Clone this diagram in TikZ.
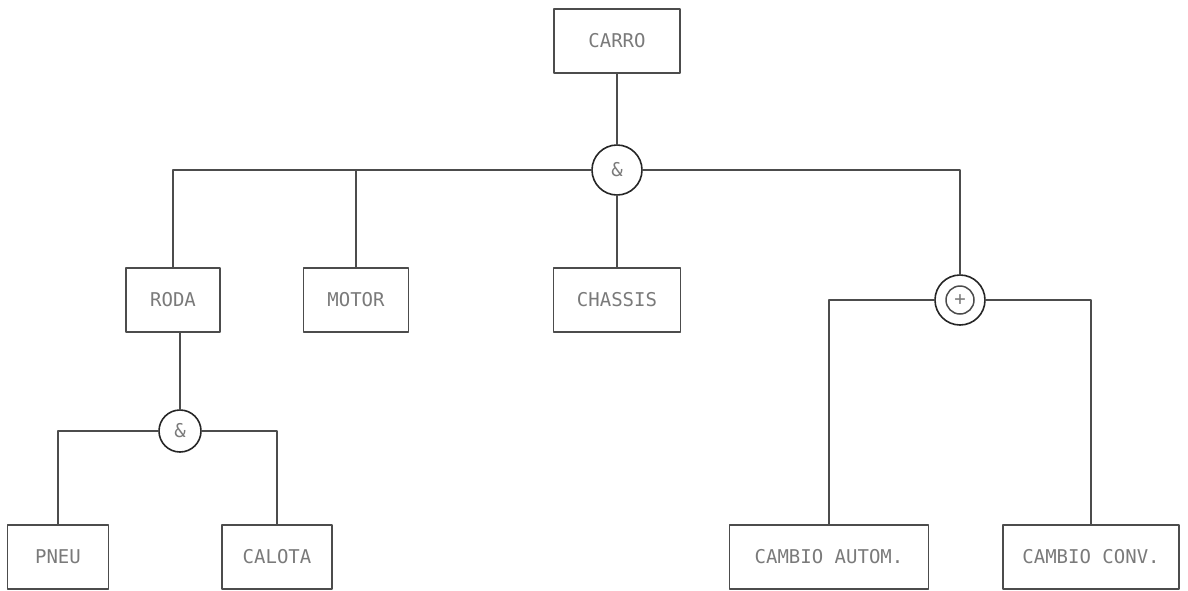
\documentclass[tikz,border=0pt]{standalone}
\usepackage{fontspec}
\setmonofont{DejaVu Sans Mono}
\usepackage{tikz}
\usetikzlibrary{calc}
\definecolor{TreeInk}{gray}{0.3}
\definecolor{TreeText}{gray}{0.48}
\tikzset{
    tree/diagram/.style={
        font=\ttfamily\fontsize{9.5}{11}\selectfont,
        line cap=round,
        line join=round,
        every node/.style={inner sep=0pt, outer sep=0pt}
    },
    tree/box/.style={
        draw=TreeInk, line width=0.8pt, text=TreeText,
        minimum height=32pt
    },
    tree/gate/.style={
        circle, draw=black!85, line width=0.8pt, text=TreeText
    },
    tree/wire/.style={draw=TreeInk, line width=0.75pt}
}

\begin{document}
\begin{tikzpicture}[tree/diagram, x=0.5pt, y=-0.5pt]
    \useasboundingbox (0,0) rectangle (1188,590);

    % top level
    \node[tree/box, minimum width=63pt] (carro) at (617,41) {CARRO};
    \node[tree/gate, minimum size=25pt] (andtop) at (617,170) {\&};

    \node[tree/box, minimum width=47pt] (roda) at (173,300) {RODA};
    \node[tree/box, minimum width=52.5pt] (motor) at (356,300) {MOTOR};
    \node[tree/box, minimum width=63.5pt] (chassis) at (617,300) {CHASSIS};
    \node[tree/gate, minimum size=25pt] (orgate) at (960,300) {+};
    \draw[tree/wire] (orgate.center) circle[radius=7pt];

    % lower level
    \node[tree/gate, minimum size=21pt] (andlow) at (180,431) {\&};
    \node[tree/box, minimum width=50.5pt] (pneu) at (58,557) {PNEU};
    \node[tree/box, minimum width=55pt] (calota) at (277,557) {CALOTA};
    \node[tree/box, minimum width=99.5pt] (autom) at (829,557) {CAMBIO AUTOM.};
    \node[tree/box, minimum width=88pt] (conv) at (1091,557) {CAMBIO CONV.};

    % connectors
    \draw[tree/wire] (carro.south) -- (andtop.north);
    \draw[tree/wire] (andtop.west) -| (roda.north);
    \draw[tree/wire] (andtop.east) -| (orgate.north);
    \draw[tree/wire] (motor.north |- andtop.center) -- (motor.north);
    \draw[tree/wire] (andtop.south) -- (chassis.north);

    \draw[tree/wire] (andlow.north |- roda.south) -- (andlow.north);
    \draw[tree/wire] (andlow.west) -| (pneu.north);
    \draw[tree/wire] (andlow.east) -| (calota.north);

    \draw[tree/wire] (orgate.west) -| (autom.north);
    \draw[tree/wire] (orgate.east) -| (conv.north);
\end{tikzpicture}
\end{document}
